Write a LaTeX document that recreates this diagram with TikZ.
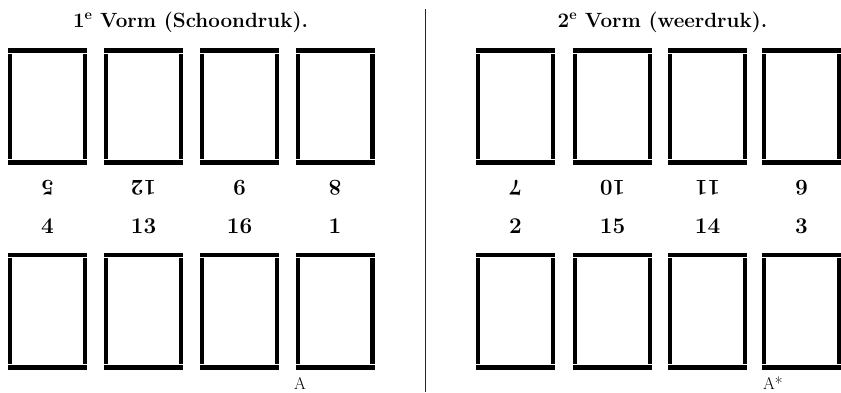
\documentclass[tikz,border=0pt]{standalone}
\usepackage{fontspec}
\begin{document}
\begin{tikzpicture}[x=1pt,y=1pt,
  pagebox/.style={minimum width=79pt, minimum height=117pt, inner sep=0pt, outer sep=0pt},
  num/.style={font=\fontsize{22.5}{26}\selectfont\bfseries, inner sep=0pt},
  flipnum/.style={num, rotate=180},
  ttl/.style={font=\fontsize{20.6}{25}\selectfont\bfseries, inner sep=0pt, anchor=base},
  sig/.style={font=\fontsize{17}{20}\selectfont, inner sep=0pt, anchor=base west},
  divider/.style={line width=1pt, black!85}]
\useasboundingbox (0,0) rectangle (841,-392);
\newcommand\drawpagebars[1]{%
  \fill (#1.north west) rectangle ([yshift=-4.6pt]#1.north east);
  \fill (#1.south west) rectangle ([yshift=4.6pt]#1.south east);
  \fill ([yshift=-5.8pt]#1.north west) rectangle ([xshift=4.4pt,yshift=5.8pt]#1.south west);
  \fill ([yshift=-5.8pt]#1.north east) rectangle ([xshift=-4.4pt,yshift=5.8pt]#1.south east);}
% titles
\node[ttl] (t1) at (190.5,-27) {1\textsuperscript{e} Vorm (Schoondruk).};
\node[ttl] (t2) at (662.5,-27) {2\textsuperscript{e} Vorm (weerdruk).};
% divider
\coordinate (dtop) at (425,-9);
\coordinate (dbot) at (425,-392);
\draw[divider] (dtop) -- (dbot);
% left form
\foreach \i/\x/\up/\dn in {1/47.5/5/4, 2/143.5/12/13, 3/239.5/9/16, 4/335/8/1}{
  \node[pagebox] (La\i) at (\x,-106.5) {};
  \drawpagebars{La\i}
  \node[flipnum] (Lna\i) at (\x,-187.5) {\up};
  \node[num] (Lnb\i) at (\x,-226.5) {\dn};
  \node[pagebox] (Lb\i) at (\x,-311) {};
  \drawpagebars{Lb\i}
}
% right form
\foreach \i/\x/\up/\dn in {1/515.5/7/2, 2/612.5/10/15, 3/707.5/11/14, 4/801.5/6/3}{
  \node[pagebox] (Ra\i) at (\x,-106.5) {};
  \drawpagebars{Ra\i}
  \node[flipnum] (Rna\i) at (\x,-187.5) {\up};
  \node[num] (Rnb\i) at (\x,-226.5) {\dn};
  \node[pagebox] (Rb\i) at (\x,-311) {};
  \drawpagebars{Rb\i}
}
\node[sig] (sA) at (294,-389) {A};
\node[sig] (sAs) at (763,-389) {A*};
\end{tikzpicture}
\end{document}
